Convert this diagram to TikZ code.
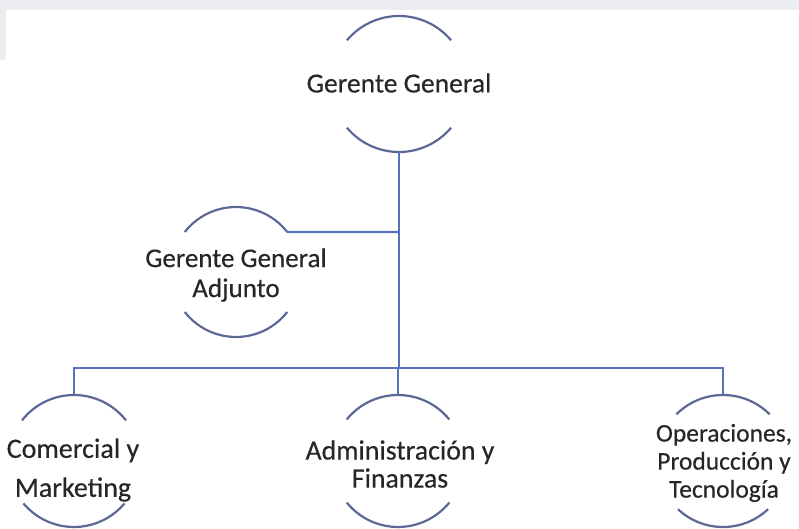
\documentclass[tikz,border=0pt]{standalone}
\usepackage{fontspec}
\setmainfont{Carlito}[UprightFeatures={FakeBold=0.35}]
\usetikzlibrary{calc}
\definecolor{linkblue}{RGB}{84,116,188}
\definecolor{arcblue}{RGB}{92,104,150}
\definecolor{txt}{RGB}{38,38,38}
\definecolor{band}{RGB}{236,237,240}
\tikzset{
  lbl/.style={align=center,text=txt,inner sep=0pt,outer sep=0pt},
  arcline/.style={draw=arcblue,line width=2.2pt},
  link/.style={draw=linkblue,line width=2.2pt}
}
\begin{document}
\begin{tikzpicture}[x=1pt,y=1pt]
\useasboundingbox (0,0) rectangle (799,-529);
\fill[white] (0,0) rectangle (799,-529);
\fill[band] (0,0) rectangle (799,-10);
\fill[band] (0,-10) rectangle (6,-60);
% centres of the arc pairs
\coordinate (gc) at (399,-84);
\coordinate (ac) at (236,-272);
\coordinate (cc) at (74,-461);
\coordinate (dc) at (398,-461);
\coordinate (oc) at (723,-461);
% labels
\node[lbl,font=\fontsize{27.5}{30}\selectfont] (g) at (399,-83) {Gerente General};
\node[lbl,font=\fontsize{27}{30}\selectfont] (a) at (236,-275) {Gerente General\\Adjunto};
\node[lbl,font=\fontsize{28}{39}\selectfont] (c) at (73,-470) {Comercial y\\Marketing};
\node[lbl,font=\fontsize{27.8}{28}\selectfont] (d) at (400,-464) {Administración y\\Finanzas};
\node[lbl,font=\fontsize{25.5}{28}\selectfont] (o) at (724,-463) {Operaciones,\\Producción y\\Tecnología};
% arcs
\draw[arcline] ($(gc)+(40:68)$) arc[start angle=40,end angle=140,radius=68];
\draw[arcline] ($(gc)+(220:68)$) arc[start angle=220,end angle=320,radius=68];
\draw[arcline] ($(ac)+(38:65)$) arc[start angle=38,end angle=142,radius=65];
\draw[arcline] ($(ac)+(218:65)$) arc[start angle=218,end angle=322,radius=65];
\draw[arcline] ($(cc)+(38:66)$) arc[start angle=38,end angle=142,radius=66];
\draw[arcline] ($(cc)+(220:66)$) arc[start angle=220,end angle=320,radius=66];
\draw[arcline] ($(dc)+(39:66)$) arc[start angle=39,end angle=141,radius=66];
\draw[arcline] ($(dc)+(219:66)$) arc[start angle=219,end angle=321,radius=66];
\draw[arcline] ($(oc)+(45:66)$) arc[start angle=45,end angle=135,radius=66];
\draw[arcline] ($(oc)+(227:66)$) arc[start angle=227,end angle=313,radius=66];
% connector points
\coordinate (gB) at ($(gc)+(0,-68)$);
\coordinate (aR) at ($(ac)+(38:65)$);
\coordinate (cT) at ($(cc)+(0,66)$);
\coordinate (dT) at ($(dc)+(0,66)$);
\coordinate (oT) at ($(oc)+(0,66)$);
\coordinate (bus) at (399,-368);
\coordinate (junc) at (399,-232);
% connectors
\draw[link] (gB) -- (bus);
\draw[link] (aR) -- (junc);
\draw[link] (cT) |- (bus) -| (oT);
\draw[link] (dT) -- (dT |- bus);
\end{tikzpicture}
\end{document}
